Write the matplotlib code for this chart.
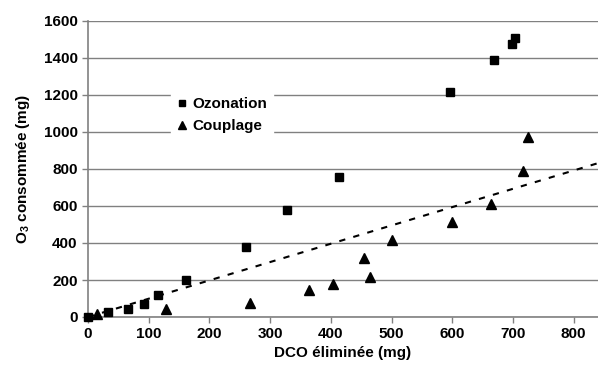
import numpy as np
import matplotlib
matplotlib.use("Agg")
import matplotlib.pyplot as plt

plt.rcParams['font.family'] = ['Liberation Sans', 'DejaVu Sans']
plt.rcParams['font.weight'] = 'bold'
plt.rcParams['mathtext.fontset'] = 'custom'
plt.rcParams['mathtext.bf'] = 'Liberation Sans:bold'
plt.rcParams['mathtext.rm'] = 'Liberation Sans:bold'

# DCO eliminee (mg) vs O3 consommee (mg)
ozo_x = [0, 33, 66, 92, 116, 162, 260, 328, 414, 597, 669, 698, 703]
ozo_y = [0, 25, 43, 69, 117, 200, 380, 578, 758, 1215, 1388, 1474, 1506]

coup_x = [15, 128, 266, 364, 404, 454, 464, 500, 599, 664, 716, 724]
coup_y = [16, 42, 74, 146, 180, 319, 218, 416, 514, 609, 789, 975]

trend_slope = 0.99
trend_xr = [0, 840]

fs = 11

fig = plt.figure(figsize=(5.98, 3.74), dpi=100)
ax = fig.add_axes([88/598, 1-317/374, 1-88/598, (317-21)/374])

ax.set_xlim(0, 840)
ax.set_ylim(0, 1600)
ax.set_yticks(range(0, 1601, 200))
ax.set_xticks(range(0, 801, 100))
ax.yaxis.grid(True, color='#808080', lw=1)
ax.set_axisbelow(True)
for s in ['top', 'right']:
    ax.spines[s].set_visible(False)
for s in ['left', 'bottom']:
    ax.spines[s].set_color('#808080')
    ax.spines[s].set_linewidth(1.2)
ax.tick_params(axis='both', colors='#808080', labelcolor='black', labelsize=fs, length=4, width=1)
for lab in ax.get_xticklabels() + ax.get_yticklabels():
    lab.set_fontweight('bold')

tx = np.array(trend_xr, dtype=float)
ax.plot(tx, trend_slope * tx, ls=(0, (3, 4)), color='black', lw=1.5, clip_on=False)

ax.plot(ozo_x, ozo_y, 's', color='black', ms=6, clip_on=False, label='Ozonation', zorder=3)
ax.plot(coup_x, coup_y, '^', color='black', ms=6.5, clip_on=False, label='Couplage', zorder=3)

leg = ax.legend(loc='upper left', bbox_to_anchor=(0.147, 0.79), frameon=True,
                prop={'size': fs, 'weight': 'bold'},
                handlelength=0.7, handletextpad=0.3, borderpad=0.4, labelspacing=0.55,
                markerscale=0.8)
leg.get_frame().set_edgecolor('white')
leg.get_frame().set_facecolor('white')
leg.get_frame().set_alpha(1)
leg.get_frame().set_boxstyle('square', pad=0)

ax.set_xlabel('DCO éliminée (mg)', fontsize=fs, fontweight='bold', labelpad=3)
ax.set_ylabel(r'O$_{\mathbf{3}}$ consommée (mg)', fontsize=fs, fontweight='bold', labelpad=8)

fig.savefig('out.png', dpi=100)
